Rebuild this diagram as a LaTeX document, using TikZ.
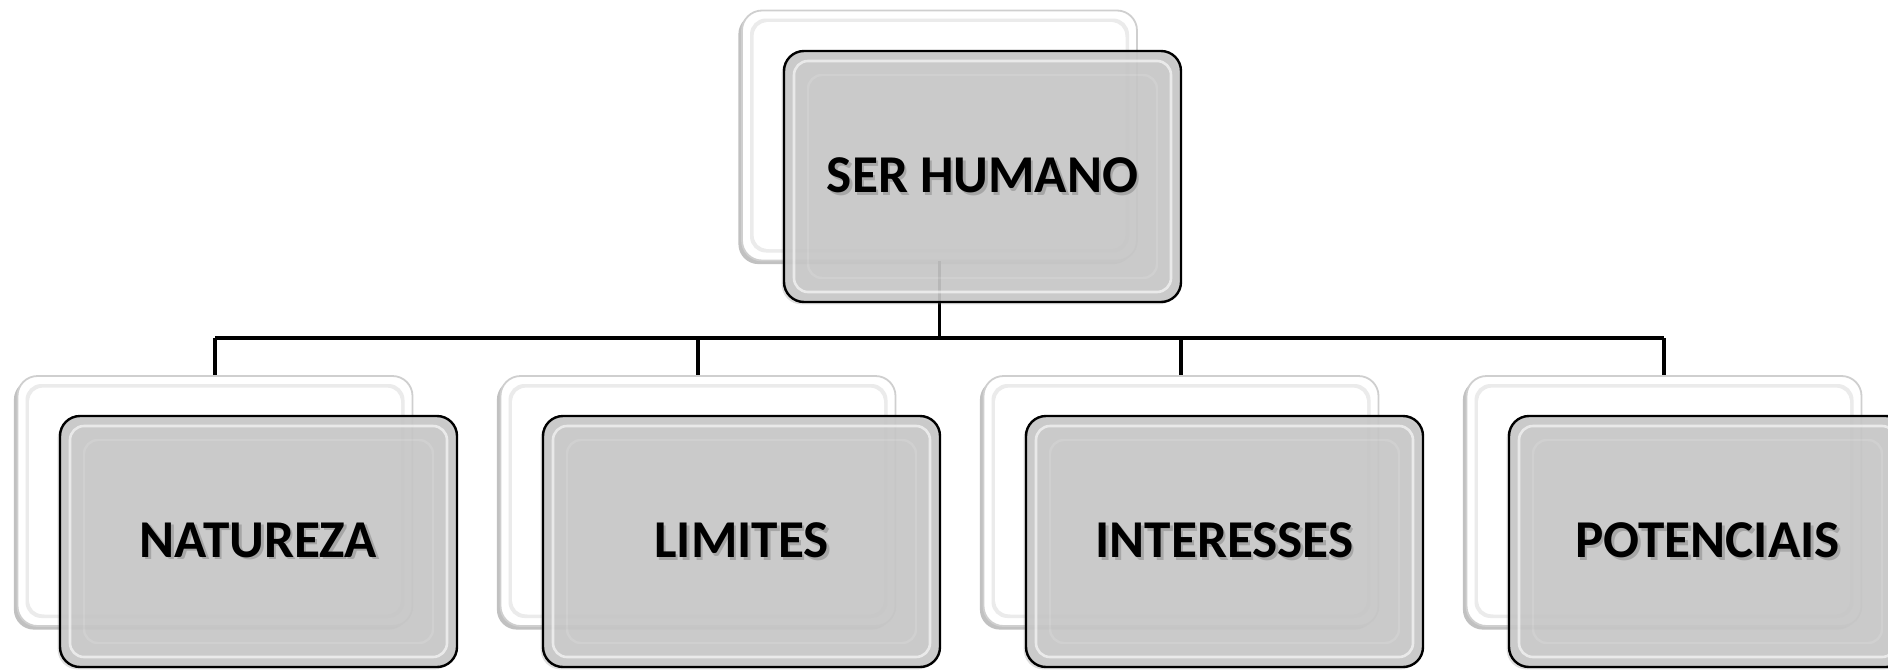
\documentclass[tikz,border=0pt]{standalone}
\usepackage{fontspec}
\setmainfont{Carlito}
\usetikzlibrary{shadows}
\definecolor{frontfill}{HTML}{C8C8C8}
\definecolor{backedge}{HTML}{CFCFCF}
\newcommand{\shtext}[1]{\rlap{\hspace{1.3pt}\raisebox{-1.3pt}{\textcolor{black!35}{#1}}}#1}
\begin{document}
\begin{tikzpicture}[x=0.5pt,y=-0.5pt,
  frontbevel/.style={path picture={
    \draw[white,opacity=0.6,line width=1.3pt,rounded corners=7pt]
      ([shift={(5pt,-5pt)}]path picture bounding box.north west) rectangle
      ([shift={(-5pt,5pt)}]path picture bounding box.south east);
    \draw[white,opacity=0.12,line width=1.2pt,rounded corners=7pt]
      ([shift={(12pt,-12pt)}]path picture bounding box.north west) rectangle
      ([shift={(-12pt,12pt)}]path picture bounding box.south east);}},
  backbevel/.style={path picture={
    \draw[black!8,line width=2pt,rounded corners=7pt]
      ([shift={(5pt,-5pt)}]path picture bounding box.north west) rectangle
      ([shift={(-5pt,5pt)}]path picture bounding box.south east);
    \draw[white,line width=1.5pt,rounded corners=7pt]
      ([shift={(6.5pt,-6.5pt)}]path picture bounding box.north west) rectangle
      ([shift={(-6.5pt,6.5pt)}]path picture bounding box.south east);}},
  backbox/.style={draw=backedge, line width=0.9pt, fill=white, rounded corners=10pt,
    minimum width=197.5pt, minimum height=125pt, inner sep=0pt,
    drop shadow={shadow xshift=-1.8pt, shadow yshift=-1.8pt, opacity=0.35, fill=black!70},
    backbevel},
  frontbox/.style={draw=black, line width=1.2pt, fill=frontfill, fill opacity=0.9,
    text opacity=1, rounded corners=10pt,
    minimum width=198.5pt, minimum height=125.5pt, inner sep=0pt,
    font=\bfseries\fontsize{26.6}{30}\selectfont,
    drop shadow={shadow xshift=-1.2pt, shadow yshift=-1.2pt, opacity=0.25},
    frontbevel},
  conn/.style={line width=1.8pt, black}]
\useasboundingbox (0,0) rectangle (1888,669);

% back boxes
\node[backbox] (tb) at (939.5,135.5) {};
\node[backbox] (b1) at (215,501) {};
\node[backbox] (b2) at (698,501) {};
\node[backbox] (b3) at (1181,501) {};
\node[backbox] (b4) at (1664,501) {};

% connectors
\coordinate (jt) at (939.5,338);
\coordinate (j1) at (215,338);
\coordinate (j2) at (698,338);
\coordinate (j3) at (1181,338);
\coordinate (j4) at (1664,338);
\draw[conn] (tb.south) -- (jt);
\draw[conn] (j1) -- (j4);
\draw[conn] (j1) -- (b1.north);
\draw[conn] (j2) -- (b2.north);
\draw[conn] (j3) -- (b3.north);
\draw[conn] (j4) -- (b4.north);

% front boxes
\node[frontbox] (top) at (982.5,176.5) {\shtext{SER HUMANO}};
\node[frontbox] (f1) at (258.5,541.5) {\shtext{NATUREZA}};
\node[frontbox] (f2) at (741.5,541.5) {\shtext{LIMITES}};
\node[frontbox] (f3) at (1224.5,541.5) {\shtext{INTERESSES}};
\node[frontbox] (f4) at (1707.5,541.5) {\shtext{POTENCIAIS}};
\end{tikzpicture}
\end{document}
